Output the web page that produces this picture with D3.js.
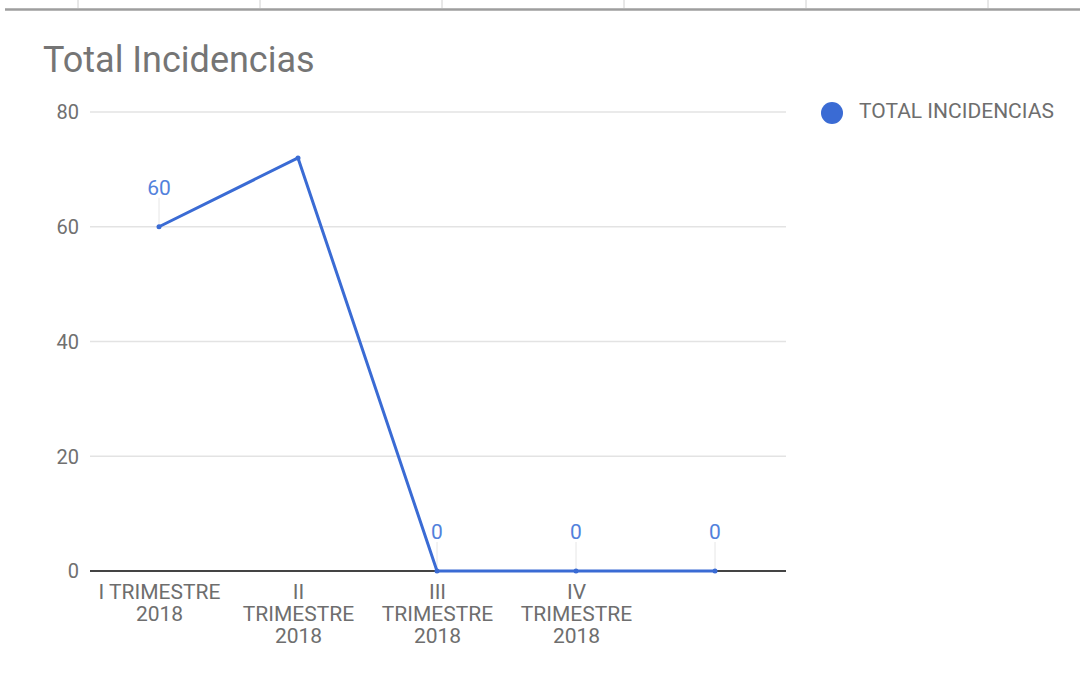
<!DOCTYPE html>
<html>
<head>
<meta charset="utf-8">
<script src="https://cdnjs.cloudflare.com/ajax/libs/d3/7.8.5/d3.min.js"></script>
<style>
  html, body { margin: 0; padding: 0; background: #fff; }
  svg { display: block; font-family: Roboto, "Noto Sans", sans-serif; }
</style>
</head>
<body>
<svg id="chart" width="1080" height="674"></svg>
<script>
// Quarterly incident totals
const categories = ["I TRIMESTRE\n2018", "II\nTRIMESTRE\n2018", "III\nTRIMESTRE\n2018", "IV\nTRIMESTRE\n2018", ""];
const values = [60, 72, 0, 0, 0];
const valueLabels = ["60", null, "0", "0", "0"];
const yTicks = [0, 20, 40, 60, 80];
const seriesName = "TOTAL INCIDENCIAS";
const title = "Total Incidencias";

const svg = d3.select("#chart");
const lineColor = "#3a6bd4";

// Strip of an axis running along the top edge
const topAxis = d3.scaleLinear().domain([0, 5]).range([78, 988]);
svg.append("line")
  .attr("x1", 5).attr("x2", 1080).attr("y1", 9.5).attr("y2", 9.5)
  .attr("stroke", "#9e9e9e").attr("stroke-width", 2.5);
svg.append("g").selectAll("line")
  .data(d3.range(0, 6))
  .join("line")
  .attr("x1", d => topAxis(d)).attr("x2", d => topAxis(d))
  .attr("y1", 0).attr("y2", 8)
  .attr("stroke", "#d0d0d0").attr("stroke-width", 1);

// Title
svg.append("text")
  .attr("x", 43).attr("y", 72)
  .attr("font-size", 36)
  .attr("fill", "#757575")
  .text(title);

const x = d3.scalePoint().domain(d3.range(categories.length)).range([89.5, 784.5]).padding(0.5);
const y = d3.scaleLinear().domain([0, 80]).range([571, 112]);

// Horizontal gridlines
svg.append("g").selectAll("line")
  .data(yTicks.filter(d => d !== 0))
  .join("line")
  .attr("x1", 90).attr("x2", 786)
  .attr("y1", d => y(d)).attr("y2", d => y(d))
  .attr("stroke", "#e3e3e3").attr("stroke-width", 1.5);

// Y axis labels
const yAxis = d3.axisLeft(y).tickValues(yTicks).tickSize(0).tickPadding(0).tickFormat(d3.format("d"));
const gy = svg.append("g").attr("transform", "translate(79,0)").call(yAxis);
gy.select(".domain").remove();
gy.selectAll("text")
  .attr("font-size", 20).attr("fill", "#707070").attr("font-family", "Roboto, sans-serif")
  .attr("dy", "0.34em");

// Leader lines from value labels down to points
const labelled = values.map((v, i) => ({ i, v, label: valueLabels[i] })).filter(d => d.label !== null);
svg.append("g").selectAll("line")
  .data(labelled)
  .join("line")
  .attr("x1", d => x(d.i)).attr("x2", d => x(d.i))
  .attr("y1", d => y(d.v) - 29).attr("y2", d => y(d.v) - 2)
  .attr("stroke", "#e6e6e6").attr("stroke-width", 1);

// Baseline at zero
svg.append("line")
  .attr("x1", 90).attr("x2", 786).attr("y1", y(0)).attr("y2", y(0))
  .attr("stroke", "#444").attr("stroke-width", 2);

// Series line
const line = d3.line().x((d, i) => x(i)).y(d => y(d));
svg.append("path")
  .datum(values)
  .attr("d", line)
  .attr("fill", "none")
  .attr("stroke", lineColor)
  .attr("stroke-width", 3)
  .attr("stroke-linejoin", "round");

svg.append("g").selectAll("circle")
  .data(values)
  .join("circle")
  .attr("cx", (d, i) => x(i)).attr("cy", d => y(d)).attr("r", 2.5)
  .attr("fill", lineColor);

// Value labels
svg.append("g").selectAll("text")
  .data(labelled)
  .join("text")
  .attr("x", d => x(d.i)).attr("y", d => y(d.v) - 32)
  .attr("text-anchor", "middle")
  .attr("font-size", 21)
  .attr("fill", "#5281dc")
  .text(d => d.label);

// X axis category labels (multi-line)
const xAxis = d3.axisBottom(x).tickSize(0).tickFormat("");
const gx = svg.append("g").attr("transform", `translate(0,${y(0)})`).call(xAxis);
gx.select(".domain").remove();
gx.selectAll(".tick").each(function (i) {
  const lines = categories[i] ? categories[i].split("\n") : [];
  const t = d3.select(this).append("text")
    .attr("text-anchor", "middle")
    .attr("font-size", 21)
    .attr("fill", "#6e6e6e")
    .attr("font-family", "Roboto, sans-serif");
  lines.forEach((s, k) => {
    t.append("tspan").attr("x", 0).attr("y", 28 + k * 22).text(s);
  });
});

// Legend
const legend = svg.append("g").attr("transform", "translate(832,113)");
legend.append("circle").attr("r", 11).attr("fill", lineColor);
legend.append("text")
  .attr("x", 27).attr("y", 5)
  .attr("font-size", 21)
  .attr("fill", "#6e6e6e")
  .text(seriesName);
</script>
</body>
</html>
